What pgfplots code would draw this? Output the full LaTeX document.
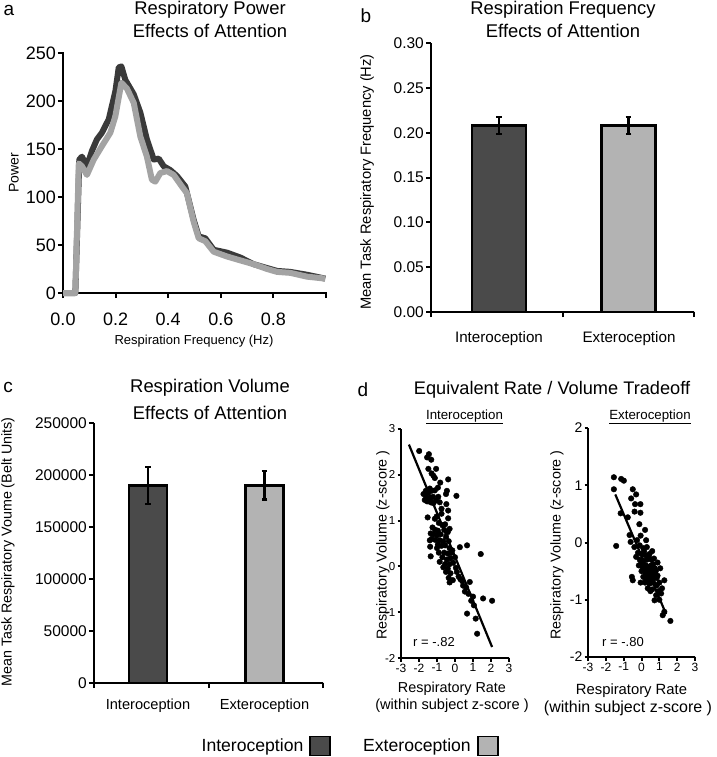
\documentclass[border=0pt]{standalone}
\usepackage{fontspec}
\setmainfont{Liberation Sans}
\usepackage{pgfplots}
\pgfplotsset{compat=1.18}
\definecolor{darkbar}{HTML}{4A4A4A}
\definecolor{lightbar}{HTML}{B3B3B3}
\definecolor{darkline}{HTML}{3A3A3A}
\definecolor{lightline}{HTML}{A3A3A3}
\newcommand{\fs}[1]{\fontsize{#1}{#1}\selectfont}
\newcommand{\axlines}{\draw[black, line width=2.8pt, line cap=rect] (rel axis cs:0,1) -- (rel axis cs:0,0) -- (rel axis cs:1,0);}
\pgfplotsset{
  panel/.style={
    scale only axis,
    axis lines=left,
    axis line style={-, line width=2.8pt, black},
    tick align=outside,
    major tick length=5pt,
    tick style={line width=2pt, black},
    /pgf/number format/assume math mode=true,
    xticklabel style={inner sep=2pt},
    yticklabel style={inner sep=2pt},
  },
  errbar/.style={error bars/.cd, y dir=both, y explicit,
    error bar style={line width=2.4pt, black},
    error mark options={rotate=90, mark size=2.8pt, line width=2.2pt, black}},
}
\begin{document}
\begin{tikzpicture}
\useasboundingbox (0pt,0pt) rectangle (716pt,-757pt);

% ---------------- panel a ----------------
\begin{axis}[panel, at={(63pt,-293pt)}, anchor=south west, width=263pt, height=240pt,
  xmin=0, xmax=1, ymin=0, ymax=250, clip=false,
  xtick={0,0.2,0.4,0.6,0.8,1}, xticklabels={0.0,0.2,0.4,0.6,0.8,{}},
  ytick={0,50,100,150,200,250},
  tick label style={font=\fs{18}},
  xticklabel style={yshift=-13pt},
]
\axlines
\addplot[darkline, line width=6pt, line join=round] coordinates {
(0,0)(0.047,0)(0.062,139)(0.072,142)(0.091,132)(0.11,148)(0.129,160)(0.148,167)
(0.174,181)(0.199,210)(0.212,235)(0.222,236)(0.237,222)(0.269,207)(0.294,188)
(0.319,160)(0.345,139)(0.364,140)(0.383,132)(0.408,128)(0.433,122)(0.465,111)
(0.497,76)(0.516,59)(0.541,57)(0.573,45)(0.624,42)(0.674,37)(0.725,30)(0.776,26)
(0.814,23)(0.864,22)(0.928,19)(0.997,15)};
\addplot[lightline, line width=6pt, line join=round] coordinates {
(0,0)(0.047,0)(0.060,135)(0.072,132)(0.091,123)(0.117,139)(0.148,153)(0.180,167)
(0.199,184)(0.222,219)(0.243,213)(0.269,198)(0.294,163)(0.319,142)(0.338,118)
(0.351,116)(0.370,125)(0.395,127)(0.421,123)(0.452,111)(0.471,104)(0.497,74)
(0.516,57)(0.541,54)(0.573,43)(0.624,38)(0.674,34)(0.725,30)(0.776,25)(0.814,22)
(0.864,21)(0.928,17)(0.997,15)};
\end{axis}
\node[font=\fs{19}] at (9pt,-10pt) {a};
\node[font=\fs{18.4}] at (210pt,-10pt) {Respiratory Power};
\node[font=\fs{18.4}] at (210pt,-31pt) {Effects of Attention};
\node[font=\fs{14}, rotate=90] at (14pt,-173pt) {Power};
\node[font=\fs{13}] at (194pt,-341pt) {Respiration Frequency (Hz)};

% ---------------- panel b ----------------
\begin{axis}[panel, at={(431pt,-312pt)}, anchor=south west, width=263pt, height=269pt,
  xmin=0, xmax=2, ymin=0, ymax=0.3,
  xtick={0,1,2}, xticklabels={},
  ytick={0,0.05,0.10,0.15,0.20,0.25,0.30},
  yticklabel style={/pgf/number format/.cd, fixed, fixed zerofill, precision=2},
  tick label style={font=\fs{15.5}},
]
\addplot[ybar, bar shift=0pt, bar width=54pt, fill=darkbar, draw=black, line width=2.6pt, errbar]
  coordinates {(0.517,0.208) +- (0,0.0095)};
\addplot[ybar, bar shift=0pt, bar width=54pt, fill=lightbar, draw=black, line width=2.6pt, errbar]
  coordinates {(1.502,0.208) +- (0,0.0095)};
\axlines
\end{axis}
\node[font=\fs{19}] at (366pt,-16pt) {b};
\node[font=\fs{18.4}] at (563pt,-10pt) {Respiration Frequency};
\node[font=\fs{18.4}] at (563pt,-31pt) {Effects of Attention};
\node[font=\fs{14.7}, rotate=90] at (367pt,-182pt) {Mean Task Respiratory Frequency (Hz)};
\node[font=\fs{15.2}] at (499pt,-339pt) {Interoception};
\node[font=\fs{15.2}] at (629pt,-339pt) {Exteroception};

% ---------------- panel c ----------------
\begin{axis}[panel, at={(94pt,-683pt)}, anchor=south west, width=229pt, height=260pt,
  xmin=0, xmax=2, ymin=0, ymax=250000,
  xtick={0,1,2}, xticklabels={},
  ytick={0,50000,100000,150000,200000,250000},
  scaled y ticks=false,
  yticklabel style={/pgf/number format/.cd, fixed, 1000 sep={}},
  tick label style={font=\fs{15.5}},
  legend plot pos=right,
  legend columns=2,
  legend image code/.code={\draw[#1, draw=black, line width=1.8pt] (0pt,-9.5pt) rectangle (20pt,9.5pt);},
  legend style={draw=none, fill=none, at={(1.114,-0.242)}, anchor=center,
    font=\fs{17.6}, inner sep=0pt,
    /tikz/every odd column/.append style={column sep=4pt},
    /tikz/every even column/.append style={column sep=30pt}},
]
\addplot[forget plot, ybar, bar shift=0pt, bar width=38pt, fill=darkbar, draw=black, line width=2.6pt, errbar]
  coordinates {(0.472,190000) +- (0,17500)};
\addplot[forget plot, ybar, bar shift=0pt, bar width=38pt, fill=lightbar, draw=black, line width=2.6pt, errbar]
  coordinates {(1.489,190000) +- (0,13500)};
\addlegendimage{fill=darkbar}
\addlegendentry{Interoception}
\addlegendimage{fill=lightbar}
\addlegendentry{Exteroception}
\axlines
\end{axis}
\node[font=\fs{19}] at (8pt,-387pt) {c};
\node[font=\fs{18.4}] at (210pt,-388pt) {Respiration Volume};
\node[font=\fs{18.4}] at (210pt,-413pt) {Effects of Attention};
\node[font=\fs{14.3}, rotate=90] at (8pt,-552pt) {Mean Task Respiratory Voume (Belt Units)};
\node[font=\fs{14.6}] at (148pt,-706pt) {Interoception};
\node[font=\fs{14.6}] at (264.5pt,-706pt) {Exteroception};

% ---------------- panel d ----------------
\node[font=\fs{19}] at (363pt,-390pt) {d};
\node[font=\fs{18.2}] at (552pt,-390pt) {Equivalent Rate / Volume Tradeoff};

\begin{axis}[panel, at={(401pt,-658pt)}, anchor=south west, width=108pt, height=229pt,
  xmin=-3, xmax=3, ymin=-2, ymax=3,
  xtick={-3,-2,-1,0,1,2,3}, ytick={-2,-1,0,1,2,3},
  xticklabel style={font=\fs{12}}, yticklabel style={font=\fs{11.5}},
  major tick length=3.5pt,
]
\axlines
\addplot[only marks, mark=*, mark size=2.8pt, mark options={draw=black, fill=black}] table {
x y
-1.99 2.52
-1.45 2.45
-1.55 2.38
-1.32 2.33
-1.48 2.13
-1.05 2.13
-1.30 2.03
-1.20 1.98
-1.12 1.93
-0.82 1.83
-0.38 1.90
-1.62 1.65
-1.50 1.60
-1.40 1.70
-1.30 1.65
-1.12 1.66
-0.95 1.72
-0.45 1.65
-0.50 1.58
0.08 1.54
-1.60 1.52
-1.40 1.48
-1.22 1.52
-1.05 1.44
-1.68 1.45
-0.93 1.52
-1.75 1.58
-1.55 1.42
-1.35 1.40
-1.20 1.38
-0.48 1.36
-0.38 1.22
-0.75 1.26
-0.85 1.40
-1.52 1.07
-1.12 1.04
-1.02 1.09
-0.75 1.15
-0.38 1.05
-0.90 0.95
-0.70 0.90
-0.55 0.92
-0.30 0.82
-1.25 0.85
-1.10 0.80
-0.95 0.78
-0.60 0.80
-0.40 0.75
-1.35 0.72
-1.20 0.70
-1.00 0.68
-0.80 0.70
-0.50 0.65
-1.30 0.60
-1.10 0.58
-0.85 0.57
-0.65 0.55
-0.35 0.55
-1.40 0.57
-0.95 0.48
-0.75 0.45
-0.55 0.46
-0.30 0.40
-1.00 0.40
-0.15 0.35
-1.38 0.43
-1.35 0.22
0.27 0.42
0.67 0.46
1.43 0.27
-0.90 0.30
-0.60 0.30
-0.40 0.28
-0.20 0.30
-0.70 0.20
-0.45 0.15
-0.25 0.18
0.00 0.20
-0.85 0.10
-0.55 0.05
-0.30 0.05
-0.10 0.08
-0.65 -0.02
-0.40 -0.05
0.05 -0.03
-0.50 -0.12
-0.25 -0.15
0.10 -0.12
-0.35 -0.25
0.20 -0.22
-0.30 -0.35
-0.12 -0.30
0.40 -0.32
0.45 -0.42
0.62 -0.46
0.82 -0.34
0.55 -0.55
0.75 -0.60
1.00 -0.66
0.90 -0.75
1.56 -0.70
2.06 -0.75
0.67 -1.03
1.15 -1.14
1.23 -1.47
1.05 -0.85
0.30 -0.28
};
\addplot[black, line width=2.2pt] coordinates {(-2.56,2.66) (2.06,-1.76)};
\end{axis}
\node[font=\fs{13.3}] at (464.5pt,-417pt) {\underline{Interoception}};
\node[font=\fs{13}] at (434pt,-642pt) {r = -.82};
\node[font=\fs{14.3}, rotate=90] at (383pt,-545pt) {Respiratory Volume (z-score )};
\node[font=\fs{14.4}] at (452pt,-689pt) {Respiratory Rate};
\node[font=\fs{14.6}] at (452pt,-706pt) {(within subject z-score )};

\begin{axis}[panel, at={(588pt,-657pt)}, anchor=south west, width=107pt, height=229pt,
  xmin=-3, xmax=3, ymin=-2, ymax=2,
  xtick={-3,-2,-1,0,1,2,3}, ytick={-2,-1,0,1,2},
  xticklabel style={font=\fs{12}}, yticklabel style={font=\fs{14}},
  major tick length=3.5pt,
]
\axlines
\addplot[only marks, mark=*, mark size=2.8pt, mark options={draw=black, fill=black}] table {
x y
-1.55 1.14
-1.14 1.11
-0.99 1.08
-1.55 0.93
-0.49 0.93
-0.30 0.84
-0.58 0.77
-0.36 0.67
-0.06 0.67
-0.39 0.54
-0.06 0.52
-1.17 0.51
-0.77 0.44
-0.12 0.32
0.20 0.22
-0.67 0.13
-0.61 0.01
-1.42 -0.06
-0.25 0.04
0.26 0.04
-0.05 0.12
-0.40 -0.08
-0.10 -0.05
0.10 -0.10
0.30 -0.08
-0.20 -0.18
0.00 -0.20
0.20 -0.22
0.45 -0.20
-0.10 -0.30
0.10 -0.32
0.30 -0.30
0.55 -0.30
0.70 -0.28
-0.15 -0.40
0.05 -0.42
0.25 -0.40
0.45 -0.42
0.65 -0.38
0.90 -0.35
0.00 -0.50
0.20 -0.52
0.40 -0.50
0.60 -0.48
0.80 -0.50
1.05 -0.45
0.10 -0.60
0.30 -0.62
0.50 -0.60
0.70 -0.62
0.90 -0.58
0.20 -0.70
0.45 -0.72
0.65 -0.70
0.85 -0.75
0.35 -0.80
0.60 -0.82
-0.54 -0.60
-0.49 -0.66
1.28 -0.66
0.82 -0.92
1.10 -0.89
0.73 -1.01
1.28 -1.21
1.19 -1.27
1.62 -1.37
1.00 -1.00
0.95 -0.85
0.15 -0.15
0.35 -0.45
0.55 -0.55
0.75 -0.45
-0.30 -0.25
0.00 -0.35
0.25 -0.65
1.15 -0.80
0.50 -0.85
0.40 -0.25
0.60 -0.15
-0.05 -0.70
1.00 -0.70
0.15 -0.45
0.35 -0.55
0.55 -0.40
0.75 -0.55
0.40 -0.65
0.60 -0.65
0.25 -0.55
0.85 -0.62
};
\addplot[black, line width=2.2pt] coordinates {(-1.47,0.84) (1.38,-1.25)};
\end{axis}
\node[font=\fs{13.3}] at (650pt,-417pt) {\underline{Exteroception}};
\node[font=\fs{13}] at (623pt,-642pt) {r = -.80};
\node[font=\fs{14.3}, rotate=90] at (557pt,-545pt) {Respiratory Volume (z-score )};
\node[font=\fs{14.8}] at (631.5pt,-691pt) {Respiratory Rate};
\node[font=\fs{16}] at (628pt,-708pt) {(within subject z-score )};
\end{tikzpicture}
\end{document}
